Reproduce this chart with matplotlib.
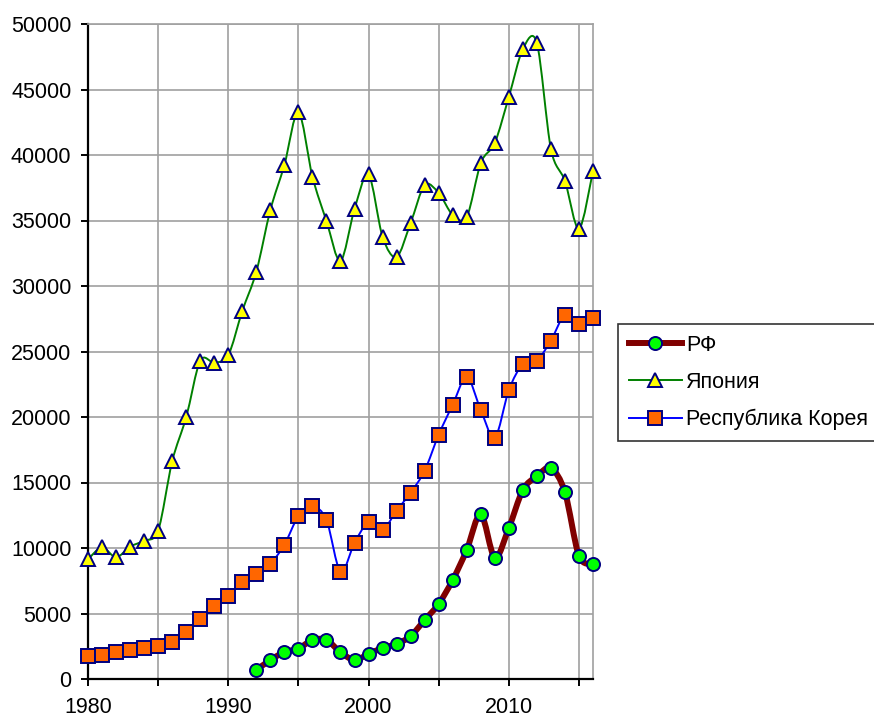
import numpy as np
import matplotlib
matplotlib.use("Agg")
from matplotlib import pyplot as plt
from matplotlib.path import Path
from matplotlib.patches import PathPatch
from matplotlib.lines import Line2D

plt.rcParams['font.family'] = ['Liberation Sans', 'DejaVu Sans']

# data
years_all = list(range(1980, 2017))
japan = [9140, 10050, 9290, 10100, 10560, 11320, 16620, 19980, 24300, 24150,
         24710, 28100, 31090, 35800, 39240, 43300, 38340, 34960, 31900, 35880,
         38520, 33740, 32210, 34810, 37710, 37100, 35420, 35270, 39390, 40920,
         44430, 48090, 48550, 40460, 38020, 34350, 38780]
korea = [1760, 1860, 2060, 2210, 2370, 2520, 2820, 3590, 4600, 5570,
         6340, 7400, 8020, 8780, 10250, 12440, 13210, 12140, 8170, 10400,
         11980, 11370, 12850, 14220, 15900, 18650, 20940, 23080, 20530, 18400,
         22060, 24050, 24300, 25830, 27810, 27100, 27560]
years_rf = list(range(1992, 2017))
russia = [690, 1450, 2060, 2320, 2980, 2980, 2040, 1450, 1910, 2370,
          2670, 3280, 4500, 5730, 7560, 9850, 12600, 9240, 11530, 14430,
          15500, 16110, 14270, 9390, 8780]

labels = ['РФ', 'Япония', 'Республика Корея']


def smooth_path(x, y, k=6.5):
    """ bezier path through the points, like excel's smoothed line """
    p = np.column_stack([x, y]).astype(float)
    verts = [p[0]]
    codes = [Path.MOVETO]
    n = len(p)
    for i in range(n - 1):
        p0 = p[i - 1] if i > 0 else p[i]
        p3 = p[i + 2] if i + 2 < n else p[i + 1]
        c1 = p[i] + (p[i + 1] - p0) / k
        c2 = p[i + 1] - (p3 - p[i]) / k
        verts += [c1, c2, p[i + 1]]
        codes += [Path.CURVE4] * 3
    return Path(verts, codes)


fig = plt.figure(figsize=(8.74, 7.2), dpi=100)
ax = fig.add_axes([88 / 874, 41 / 720, 505 / 874, 655 / 720])

series = [
    (years_rf, russia, '#800000', 4.3, 'o', '#00ff00'),
    (years_all, japan, '#008000', 1.4, '^', '#ffff00'),
    (years_all, korea, '#0000ff', 1.4, 's', '#ff6600'),
]

ms = 9.4
handles = []
for (x, y, col, lw, mk, fc), lab in zip(series, labels):
    patch = PathPatch(smooth_path(x, y), facecolor='none', edgecolor=col,
                      lw=lw, zorder=3, capstyle='round', joinstyle='round')
    ax.add_patch(patch)
    ax.plot(x, y, linestyle='none', marker=mk, markersize=ms,
            markerfacecolor=fc, markeredgecolor='#000080',
            markeredgewidth=1.4, zorder=4, clip_on=False)
    handles.append(Line2D([], [], color=col, lw=lw, marker=mk, markersize=ms,
                          markerfacecolor=fc, markeredgecolor='#000080',
                          markeredgewidth=1.4))

ax.set_xlim(1980, 2016)
ax.set_ylim(0, 50000)
ax.set_xticks(range(1980, 2016, 5))
ax.set_xticklabels([str(t) if t % 10 == 0 else '' for t in range(1980, 2016, 5)])
ax.set_yticks(range(0, 50001, 5000))

ax.grid(True, color='#a0a0a0', lw=1.2)
ax.set_axisbelow(True)
for s in ['left', 'bottom']:
    ax.spines[s].set_color('black')
    ax.spines[s].set_linewidth(1.6)
for s in ['top', 'right']:
    ax.spines[s].set_color('#a0a0a0')
    ax.spines[s].set_linewidth(1.2)

ax.tick_params(axis='y', length=5, width=1.4, pad=7, labelsize=15.5)
ax.tick_params(axis='x', length=5, width=1.4, pad=8, labelsize=15.5)

leg = fig.legend(handles, labels, loc='upper left',
                 bbox_to_anchor=(618 / 874, 1 - 324 / 720),
                 fontsize=15.5, frameon=True, fancybox=False,
                 edgecolor='black', handlelength=2.45, handletextpad=0.2,
                 labelspacing=0.75, borderpad=0.5, borderaxespad=0)
leg.get_frame().set_linewidth(1.2)

fig.savefig('out.png', dpi=100)
